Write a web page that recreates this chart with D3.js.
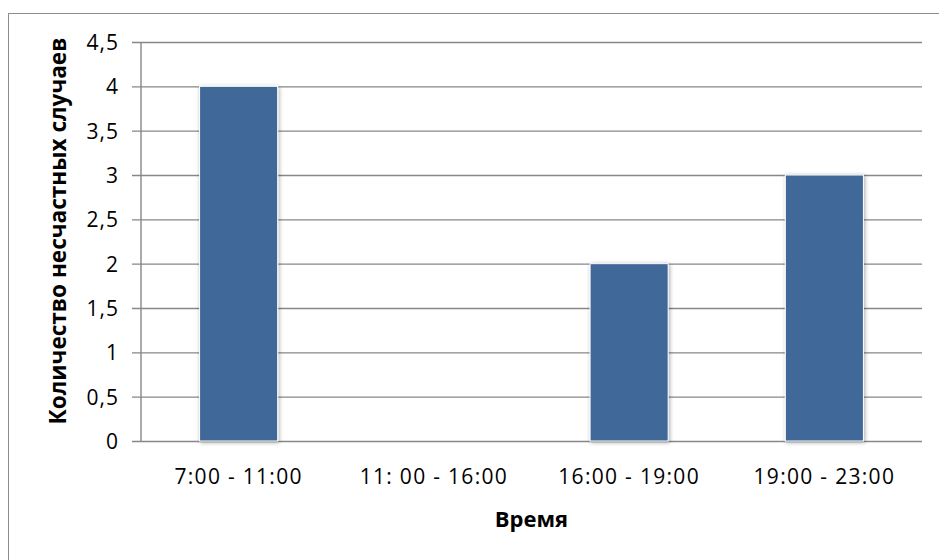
<!DOCTYPE html>
<html>
<head>
<meta charset="utf-8">
<script src="https://cdn.jsdelivr.net/npm/d3@7/dist/d3.min.js"></script>
<style>
  html, body { margin: 0; padding: 0; background: #fff; }
  svg { display: block; }
  text { font-family: "Open Sans", sans-serif; fill: #000; }
</style>
</head>
<body>
<svg id="chart" width="939" height="560"></svg>
<script>
// Accidents by time of day
const categories = ["7:00 - 11:00", "11: 00 - 16:00", "16:00 - 19:00", "19:00 - 23:00"];
const accidents = [4, 0, 2, 3];
const yTicks = [0, 0.5, 1, 1.5, 2, 2.5, 3, 3.5, 4, 4.5];
const yTickLabels = ["0", "0,5", "1", "1,5", "2", "2,5", "3", "3,5", "4", "4,5"];
const xTitle = "Время";
const yTitle = "Количество несчастных случаев";

const FONT = "'Open Sans', sans-serif";
const svg = d3.select("#chart");
const plot = { left: 141, right: 922, top: 42, bottom: 441 };

// outer chart frame
svg.append("rect")
  .attr("x", 8.5).attr("y", 13.5)
  .attr("width", 960).attr("height", 600)
  .attr("fill", "#fff").attr("stroke", "#8c8c8c").attr("stroke-width", 1);

const defs = svg.append("defs");
const sh = defs.append("filter").attr("id", "barShadow")
  .attr("x", "-20%").attr("y", "-5%").attr("width", "140%").attr("height", "110%");
sh.append("feGaussianBlur").attr("in", "SourceAlpha").attr("stdDeviation", 2).attr("result", "b");
sh.append("feOffset").attr("in", "b").attr("dx", 1).attr("dy", 1).attr("result", "o");
sh.append("feComponentTransfer").attr("in", "o").attr("result", "s")
  .append("feFuncA").attr("type", "linear").attr("slope", 0.35);
const m = sh.append("feMerge");
m.append("feMergeNode").attr("in", "s");
m.append("feMergeNode").attr("in", "SourceGraphic");

const x = d3.scaleBand().domain(categories).range([plot.left, plot.right]).padding(0);
const y = d3.scaleLinear().domain([0, 4.5]).range([plot.bottom, plot.top]);
const barW = x.bandwidth() / 2.5;

// horizontal gridlines with ticks on the left
const yAxis = d3.axisLeft(y)
  .tickValues(yTicks)
  .tickFormat((d, i) => yTickLabels[i])
  .tickSize(-(plot.right - plot.left));
const gy = svg.append("g").attr("transform", `translate(${plot.left},0)`).call(yAxis);
gy.select(".domain").remove();
gy.selectAll(".tick line")
  .attr("x1", -9)
  .attr("stroke", "#878787").attr("stroke-width", 1.4);
gy.selectAll(".tick text")
  .attr("font-size", 21).attr("font-family", FONT)
  .style("letter-spacing", "1px")
  .attr("fill", "#000").attr("x", -22).attr("dy", "0.36em");

// vertical axis line
svg.append("line")
  .attr("x1", plot.left).attr("x2", plot.left)
  .attr("y1", plot.top).attr("y2", plot.bottom)
  .attr("stroke", "#878787").attr("stroke-width", 1.4);

// bars
svg.append("g").selectAll("rect").data(accidents).join("rect")
  .attr("x", (d, i) => x(categories[i]) + (x.bandwidth() - barW) / 2)
  .attr("y", d => y(d))
  .attr("width", barW)
  .attr("height", d => y(0) - y(d))
  .attr("fill", "#416899")
  .attr("stroke", "#ffffff").attr("stroke-width", 1)
  .attr("filter", "url(#barShadow)")
  .style("display", d => d > 0 ? null : "none");

// category labels
const xAxis = d3.axisBottom(x).tickSize(0).tickPadding(0);
const gx = svg.append("g").attr("transform", `translate(0,${plot.bottom})`).call(xAxis);
gx.select(".domain").remove();
gx.selectAll(".tick text")
  .attr("font-size", 21).attr("font-family", FONT).attr("fill", "#000")
  .style("letter-spacing", "1.3px")
  .attr("y", 43).attr("dy", 0);

// axis titles
svg.append("text")
  .attr("x", (plot.left + plot.right) / 2).attr("y", 527)
  .attr("text-anchor", "middle")
  .attr("font-size", 22).attr("font-weight", "bold")
  .text(xTitle);

const yt = svg.append("text")
  .attr("transform", `translate(66,231) rotate(-90)`)
  .attr("text-anchor", "middle")
  .attr("font-size", 20).attr("font-weight", "bold")
  .text(yTitle);
// size the vertical title to span the height it occupies beside the axis
const len = yt.node().getComputedTextLength();
yt.attr("font-size", 20 * 387 / len);
</script>
</body>
</html>
